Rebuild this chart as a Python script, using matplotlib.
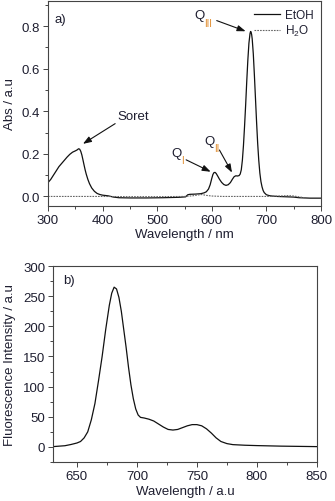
import matplotlib
matplotlib.use("Agg")
import matplotlib.pyplot as plt
from matplotlib.ticker import MultipleLocator

plt.rcParams['font.family'] = ['Liberation Sans', 'DejaVu Sans']
plt.rcParams['mathtext.default'] = 'regular'

# ---- Panel a) absorbance ----
abs_wl = [300, 305, 310, 315, 320, 325, 330, 335, 340, 345, 350, 353, 356, 358, 360, 362,
          364, 366, 368, 370, 373, 376, 380, 385, 390, 395, 400, 410, 420, 430, 450, 480,
          510, 540, 552, 556, 560, 570, 580, 586, 590, 594, 597, 600, 602, 604, 606, 608,
          611, 614, 618, 622, 626, 630, 634, 638, 641, 644, 647, 650, 652, 654, 656, 658,
          660, 662, 664, 666, 668, 670, 671, 672, 673, 674, 676, 678, 680, 682, 684, 686,
          688, 690, 692, 694, 696, 700, 705, 710, 720, 730, 740, 750, 760, 770, 780, 800]
abs_etoh = [0.065, 0.08, 0.10, 0.12, 0.14, 0.155, 0.17, 0.185, 0.198, 0.208, 0.214, 0.218, 0.224,
            0.222, 0.212, 0.195, 0.172, 0.148, 0.125, 0.105, 0.08, 0.06, 0.04, 0.024, 0.014,
            0.009, 0.006, 0.003, -0.003, -0.006, -0.007, -0.007, -0.006, -0.004, -0.002, 0.008,
            0.010, 0.011, 0.013, 0.017, 0.022, 0.035, 0.055, 0.085, 0.103, 0.112, 0.113, 0.108,
            0.095, 0.081, 0.066, 0.056, 0.052, 0.055, 0.065, 0.082, 0.093, 0.097, 0.096, 0.098,
            0.105, 0.125, 0.17, 0.24, 0.33, 0.43, 0.54, 0.64, 0.72, 0.765, 0.775, 0.772, 0.76,
            0.74, 0.67, 0.57, 0.46, 0.35, 0.25, 0.17, 0.11, 0.07, 0.045, 0.028, 0.018, 0.008,
            0.004, 0.002, 0.0, -0.001, -0.002, -0.003, -0.006, -0.007, -0.008, -0.008]
h2o_wl = [300, 350, 400, 450, 500, 550, 565, 575, 582, 590, 600, 620, 650, 700, 725, 740, 750, 760, 770]
abs_h2o = [0.0, 0.0, 0.0, -0.001, -0.001, 0.0, 0.003, 0.007, 0.009, 0.005, 0.002, 0.0, 0.0, 0.0,
           0.002, 0.004, 0.002, -0.002, -0.006]

# ---- Panel b) fluorescence ----
fl_wl = [630, 640, 645, 650, 653, 656, 659, 662, 665, 668, 671, 674, 677, 679, 681, 683, 685,
         687, 689, 691, 693, 695, 697, 699, 701, 703, 706, 710, 714, 718, 722, 726, 730, 734,
         738, 742, 746, 750, 754, 758, 762, 766, 770, 775, 780, 790, 800, 820, 850]
fl_int = [0.5, 2, 4, 6.5, 9, 15, 25, 45, 72, 110, 150, 195, 235, 255, 265, 262, 248, 225, 195,
          165, 132, 103, 80, 63, 53, 49, 48, 46, 43, 38, 33, 29, 28, 29, 32, 35, 37, 37, 35,
          30, 23, 15, 9, 5.5, 3.8, 2.8, 2.2, 1.3, 0.5]

txt_col = '#1e1e30'
sub_col = '#e08a2a'
spine_col = '#444444'

fig = plt.figure(figsize=(3.35, 5.02), dpi=100)
ax1 = fig.add_axes([0.1433, 0.5876, 0.8149, 0.4084])
ax2 = fig.add_axes([0.158, 0.0777, 0.788, 0.3903])

def style(ax):
    for s in ax.spines.values():
        s.set_color(spine_col)
        s.set_linewidth(0.8)
    ax.tick_params(which='both', direction='out', colors=spine_col, labelcolor=txt_col,
                   labelsize=9.5, top=False, right=False, width=0.7)
    ax.tick_params(which='major', length=3.5, pad=2)
    ax.tick_params(which='minor', length=2)

# Panel a
ax1.plot(abs_wl, abs_etoh, color='#111111', lw=0.9, label='EtOH')
ax1.plot(h2o_wl, abs_h2o, color='#666666', lw=0.8, ls=(0, (1.5, 1)), label='H$_2$O')
ax1.set_xlim(300, 800)
ax1.set_ylim(-0.045, 0.918)
ax1.xaxis.set_major_locator(MultipleLocator(100))
ax1.xaxis.set_minor_locator(MultipleLocator(50))
ax1.yaxis.set_major_locator(MultipleLocator(0.2))
ax1.yaxis.set_minor_locator(MultipleLocator(0.1))
ax1.yaxis.set_major_formatter(matplotlib.ticker.FormatStrFormatter('%.1f'))
style(ax1)
ax1.set_xlabel('Wavelength / nm', fontsize=9.5, color=txt_col)
ax1.set_ylabel('Abs / a.u', fontsize=9.5, color=txt_col)
ax1.xaxis.set_label_coords(0.5, -0.105)
ax1.yaxis.set_label_coords(-0.119, 0.5)
ax1.text(0.022, 0.91, 'a)', transform=ax1.transAxes, fontsize=9.5, color=txt_col, va='center')
leg = ax1.legend(loc='upper right', frameon=False, fontsize=8.5, handlelength=2.2,
                 handletextpad=0.4, borderaxespad=0.25, labelspacing=0.2)
for t in leg.get_texts():
    t.set_color(txt_col)

arrow = dict(arrowstyle='-|>,head_length=0.5,head_width=0.18', color='#111111', lw=0.8,
             shrinkA=0, shrinkB=0)
ax1.text(456, 0.38, 'Soret', fontsize=9.5, color=txt_col, ha='center', va='center')
ax1.annotate('', xy=(364, 0.247), xytext=(423, 0.342), arrowprops=arrow)

def qlabel(pos, sub, start, end):
    t = ax1.text(pos[0], pos[1], 'Q', fontsize=9.5, color=txt_col, ha='center', va='center')
    ax1.annotate(sub, xy=(0.97, 0.3), xycoords=t, fontsize=7, color=sub_col,
                 ha='left', va='top')
    ax1.annotate('', xy=end, xytext=start, arrowprops=arrow)

qlabel((535, 0.205), 'I', (553, 0.172), (598, 0.116))
qlabel((596, 0.262), 'II', (614, 0.218), (637, 0.112))
qlabel((578, 0.85), 'III', (609, 0.826), (662, 0.776))

# Panel b
ax2.plot(fl_wl, fl_int, color='#111111', lw=0.9)
ax2.set_xlim(630, 850)
ax2.set_ylim(-25, 300)
ax2.xaxis.set_major_locator(MultipleLocator(50))
ax2.xaxis.set_minor_locator(MultipleLocator(25))
ax2.yaxis.set_major_locator(MultipleLocator(50))
ax2.yaxis.set_minor_locator(MultipleLocator(25))
style(ax2)
ax2.set_xlabel('Wavelength / a.u', fontsize=9.5, color=txt_col)
ax2.set_ylabel('Fluorescence Intensity / a.u', fontsize=9.5, color=txt_col)
ax2.xaxis.set_label_coords(0.5, -0.118)
ax2.yaxis.set_label_coords(-0.14, 0.5)
ax2.text(0.037, 0.93, 'b)', transform=ax2.transAxes, fontsize=9.5, color=txt_col, va='center')

fig.savefig('out.png', dpi=100)
